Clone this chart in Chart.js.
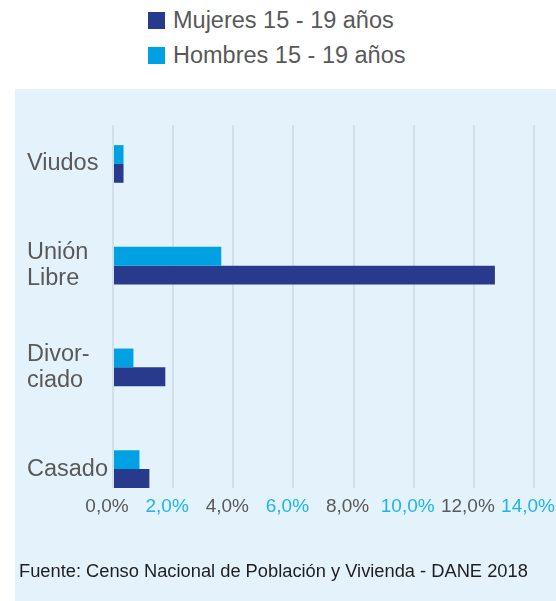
<!DOCTYPE html>
<html>
<head>
<meta charset="utf-8">
<script src="https://cdn.jsdelivr.net/npm/chart.js@4/dist/chart.umd.min.js"></script>
<style>
  html, body { margin: 0; padding: 0; background: #ffffff; width: 556px; height: 601px; overflow: hidden; font-family: "Liberation Sans", Arial, sans-serif; }
  #legend { position: absolute; left: 148px; top: 3px; }
  .item { display: flex; align-items: center; height: 35px; font-size: 23.5px; color: #595959; }
  .box { width: 17px; height: 17px; margin-right: 8px; flex: none; }
  #panel { position: absolute; left: 15px; top: 89px; width: 541px; height: 512px; background: #e4f3fb; }
  #source { position: absolute; left: 19px; top: 560px; font-size: 18.3px; color: #1e1e1e; white-space: nowrap; }
</style>
</head>
<body>
<div id="legend"></div>
<div id="panel"><canvas id="c" width="541" height="512"></canvas></div>
<div id="source">Fuente: Censo Nacional de Población y Vivienda - DANE 2018</div>
<script>
const categories = [["Viudos"], ["Unión", "Libre"], ["Divor-", "ciado"], ["Casado"]];
const seriesNames = ["Mujeres 15 - 19 años", "Hombres 15 - 19 años"];
const mujeres = [0.35, 12.7, 1.74, 1.21];
const hombres = [0.35, 3.6, 0.68, 0.88];
const xTicks = [0, 2, 4, 6, 8, 10, 12, 14];

const colMujeres = "#283a8b";
const colHombres = "#00a1e2";

// HTML legend
const legendEl = document.getElementById("legend");
[[seriesNames[0], colMujeres], [seriesNames[1], colHombres]].forEach(([name, col]) => {
  const d = document.createElement("div");
  d.className = "item";
  d.innerHTML = '<span class="box" style="background:' + col + '"></span><span>' + name + '</span>';
  legendEl.appendChild(d);
});

const toPts = arr => arr.map((v, i) => ({ x: v, y: i }));

new Chart(document.getElementById("c"), {
  type: "bar",
  data: {
    datasets: [
      { label: seriesNames[1], data: toPts(hombres), backgroundColor: colHombres, barPercentage: 1, categoryPercentage: 0.37 },
      { label: seriesNames[0], data: toPts(mujeres), backgroundColor: colMujeres, barPercentage: 1, categoryPercentage: 0.37 }
    ]
  },
  options: {
    indexAxis: "y",
    responsive: false,
    animation: false,
    layout: { padding: { top: 36, left: 12, right: 22, bottom: 81 } },
    plugins: { legend: { display: false }, tooltip: { enabled: false } },
    scales: {
      x: {
        type: "linear",
        min: 0, max: 14,
        afterBuildTicks: s => { s.ticks = xTicks.map(v => ({ value: v })); },
        afterFit: s => { s.paddingLeft = 0; s.paddingRight = 0; s.height = 32; },
        grid: { color: "#d2e1e9", lineWidth: 2, drawTicks: false },
        border: { display: false },
        ticks: {
          padding: 7,
          labelOffset: -6,
          font: { family: "Liberation Sans", size: 19 },
          color: ctx => (ctx.index % 2 ? "#1bb5ee" : "#595959"),
          callback: v => v.toFixed(1).replace(".", ",") + "%"
        }
      },
      y: {
        type: "linear",
        reverse: true,
        offset: false,
        min: -0.383, max: 3.186,
        afterBuildTicks: s => { s.ticks = categories.map((c, i) => ({ value: i })); },
        afterFit: s => { s.width = 86; s.paddingTop = 0; s.paddingBottom = 0; },
        grid: { display: false, drawTicks: false, offset: false },
        border: { display: false },
        ticks: {
          crossAlign: "far",
          padding: 0,
          font: { family: "Liberation Sans", size: 23.5, lineHeight: 1.13 },
          color: "#595959",
          callback: v => categories[v]
        }
      }
    }
  }
});
</script>
</body>
</html>
